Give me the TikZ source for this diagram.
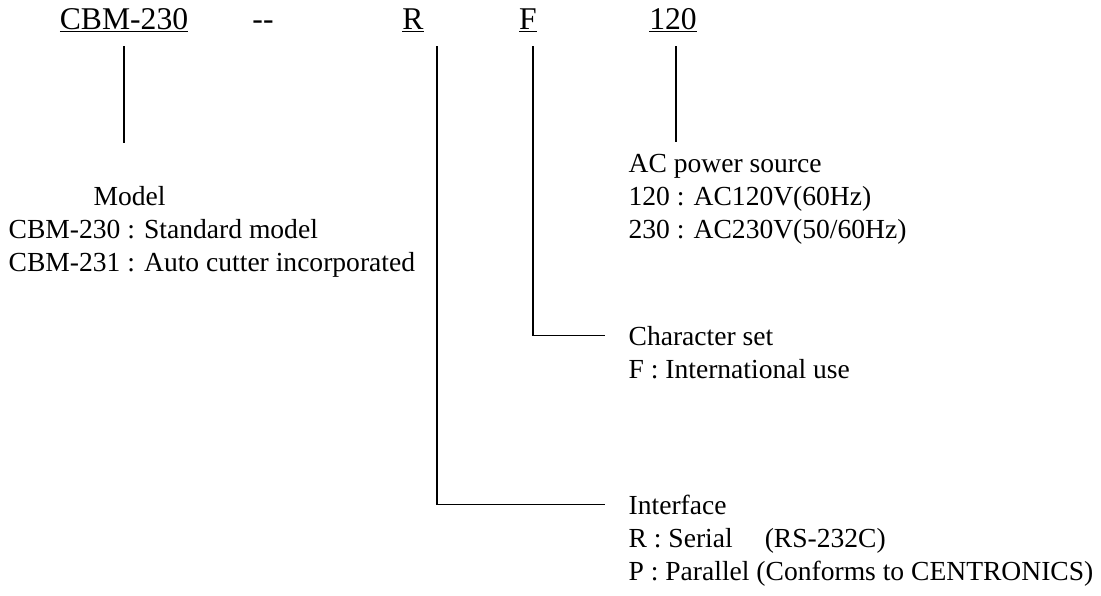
\documentclass[tikz,border=0pt]{standalone}
\usepackage{fontspec}
\setmainfont{Liberation Serif}
\usetikzlibrary{positioning}

\begin{document}
\begin{tikzpicture}[x=0.025cm, y=-0.025cm, line width=0.9pt,
    code/.style={font=\fontsize{22.5}{27}\selectfont, inner sep=0pt, anchor=base},
    heading/.style={font=\fontsize{19.6}{23.5}\selectfont, inner xsep=0.575cm, inner ysep=0pt, anchor=base west},
    item/.style={font=\fontsize{19.6}{23.5}\selectfont, inner sep=0pt, anchor=base west}]
    \useasboundingbox (0,0) rectangle (1101,595);

    % model number
    \node[code] (model) at (124,29) {\underline{CBM-230}};
    \node[code] (dash) at (263,29) {-{}-};
    \node[code] (rsel) at (413,29) {\underline{R}};
    \node[code] (fsel) at (528,29) {\underline{F}};
    \node[code] (vsel) at (673,29) {\underline{120}};

    % meaning of each part
    \node[heading] (powerhead) at (605,172) {AC power source};
    \node[item] (power1) at (628,205) {120 : AC120V(60Hz)};
    \node[item] (power2) at (628,238) {230 : AC230V(50/60Hz)};

    \node[heading] (modelhead) at (70,205) {Model};
    \node[item] (model1) at (8,238) {CBM-230 : Standard model};
    \node[item] (model2) at (8,271) {CBM-231 : Auto cutter incorporated};

    \node[heading] (charhead) at (605,345) {Character set};
    \node[item] (char1) at (628,378) {F : International use};

    \node[heading] (ifacehead) at (605,514) {Interface};
    \node[item] (iface1) at (628,547) {R : Serial\hspace{0.8cm}(RS-232C)};
    \node[item] (iface2) at (628,580) {P : Parallel (Conforms to CENTRONICS)};

    \coordinate (mtick) at (124,46);
    \coordinate (mend) at (124,143);
    \coordinate (vtick) at (676,46);
    \coordinate (vend) at (676,142);
    \coordinate (ftick) at (533,46);
    \coordinate (rtick) at (437,46);

    \draw (mtick) -- (mend);
    \draw (vtick) -- (vend);
    \draw (ftick) |- (charhead.west);
    \draw (rtick) |- (ifacehead.west);
\end{tikzpicture}
\end{document}
